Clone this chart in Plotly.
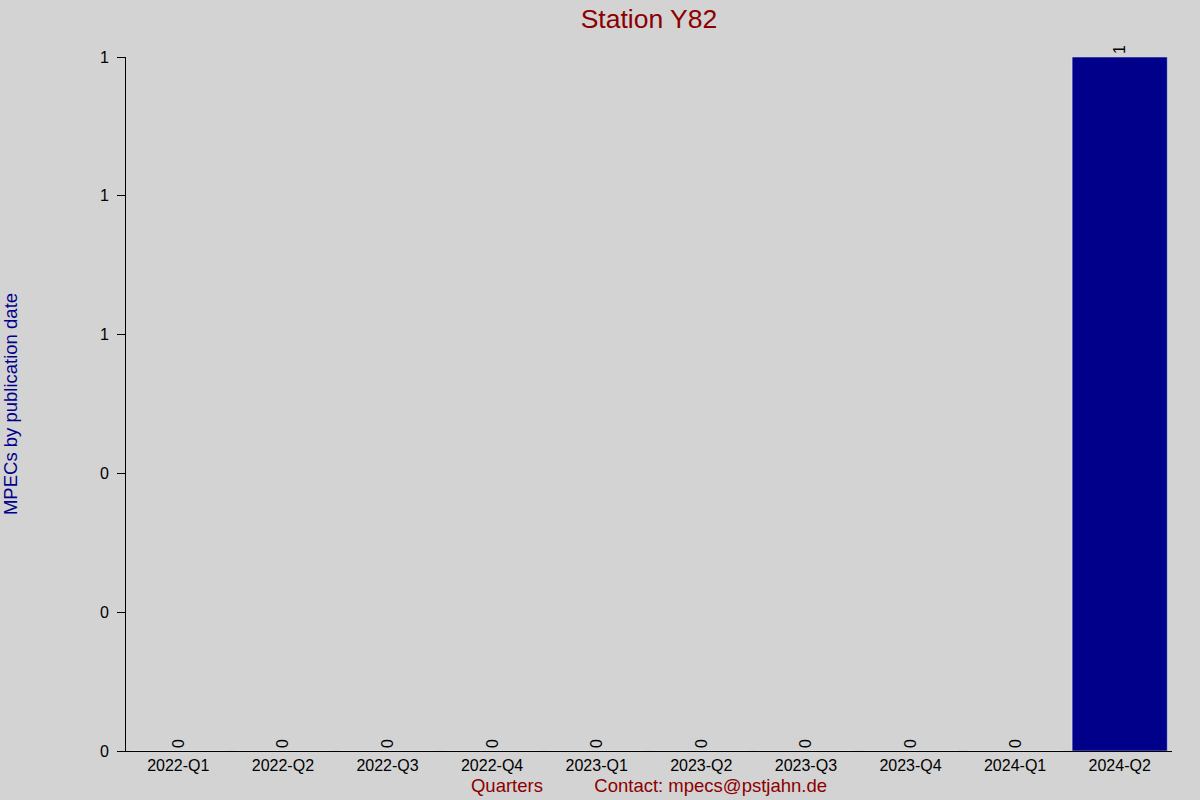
import plotly.graph_objects as go

# Data
quarters = ["2022-Q1", "2022-Q2", "2022-Q3", "2022-Q4", "2023-Q1",
            "2023-Q2", "2023-Q3", "2023-Q4", "2024-Q1", "2024-Q2"]
mpecs = [0, 0, 0, 0, 0, 0, 0, 0, 0, 1]
y_ticks = [0, 0.2, 0.4, 0.6, 0.8, 1.0]

gap = "\u00a0" * 10

fig = go.Figure()
fig.add_trace(go.Bar(
    x=quarters,
    y=mpecs,
    text=[str(v) for v in mpecs],
    textposition="outside",
    textangle=-90,
    textfont=dict(color="black", size=16),
    marker_color="#00008B",
    cliponaxis=False,
))

fig.update_layout(
    width=1200,
    height=800,
    font=dict(family="Liberation Sans, Arial, sans-serif", size=16, color="black"),
    paper_bgcolor="#d3d3d3",
    plot_bgcolor="#d3d3d3",
    margin=dict(l=126, r=28, t=57, b=49),
    bargap=0.09,
    showlegend=False,
    title=dict(text="Station Y82", x=0.5408, xanchor="center", y=0.977, yanchor="middle",
               font=dict(size=26.5, color="#8B0000")),
)

fig.update_xaxes(
    showgrid=False,
    showline=True,
    linecolor="black",
    linewidth=1,
    ticks="",
    tickfont=dict(size=16),
    title=dict(text="Quarters" + gap + "Contact: mpecs@pstjahn.de",
               font=dict(size=18.5, color="#8B0000"), standoff=5),
    automargin=False,
)

fig.update_yaxes(
    range=[0, 1],
    tickvals=y_ticks,
    tickformat=".0f",
    showgrid=False,
    zeroline=False,
    showline=True,
    linecolor="black",
    linewidth=1,
    ticks="outside",
    ticklen=8,
    tickcolor="black",
    tickfont=dict(size=16),
    ticklabelstandoff=5,
    title=dict(text="MPECs by publication date", font=dict(size=18.5, color="#00008B"), standoff=77),
    automargin=False,
)

# remove the default page margin so the figure fills the window
fig.write_html("out.html", config={"displayModeBar": False},
               post_script="document.body.style.margin='0';")
